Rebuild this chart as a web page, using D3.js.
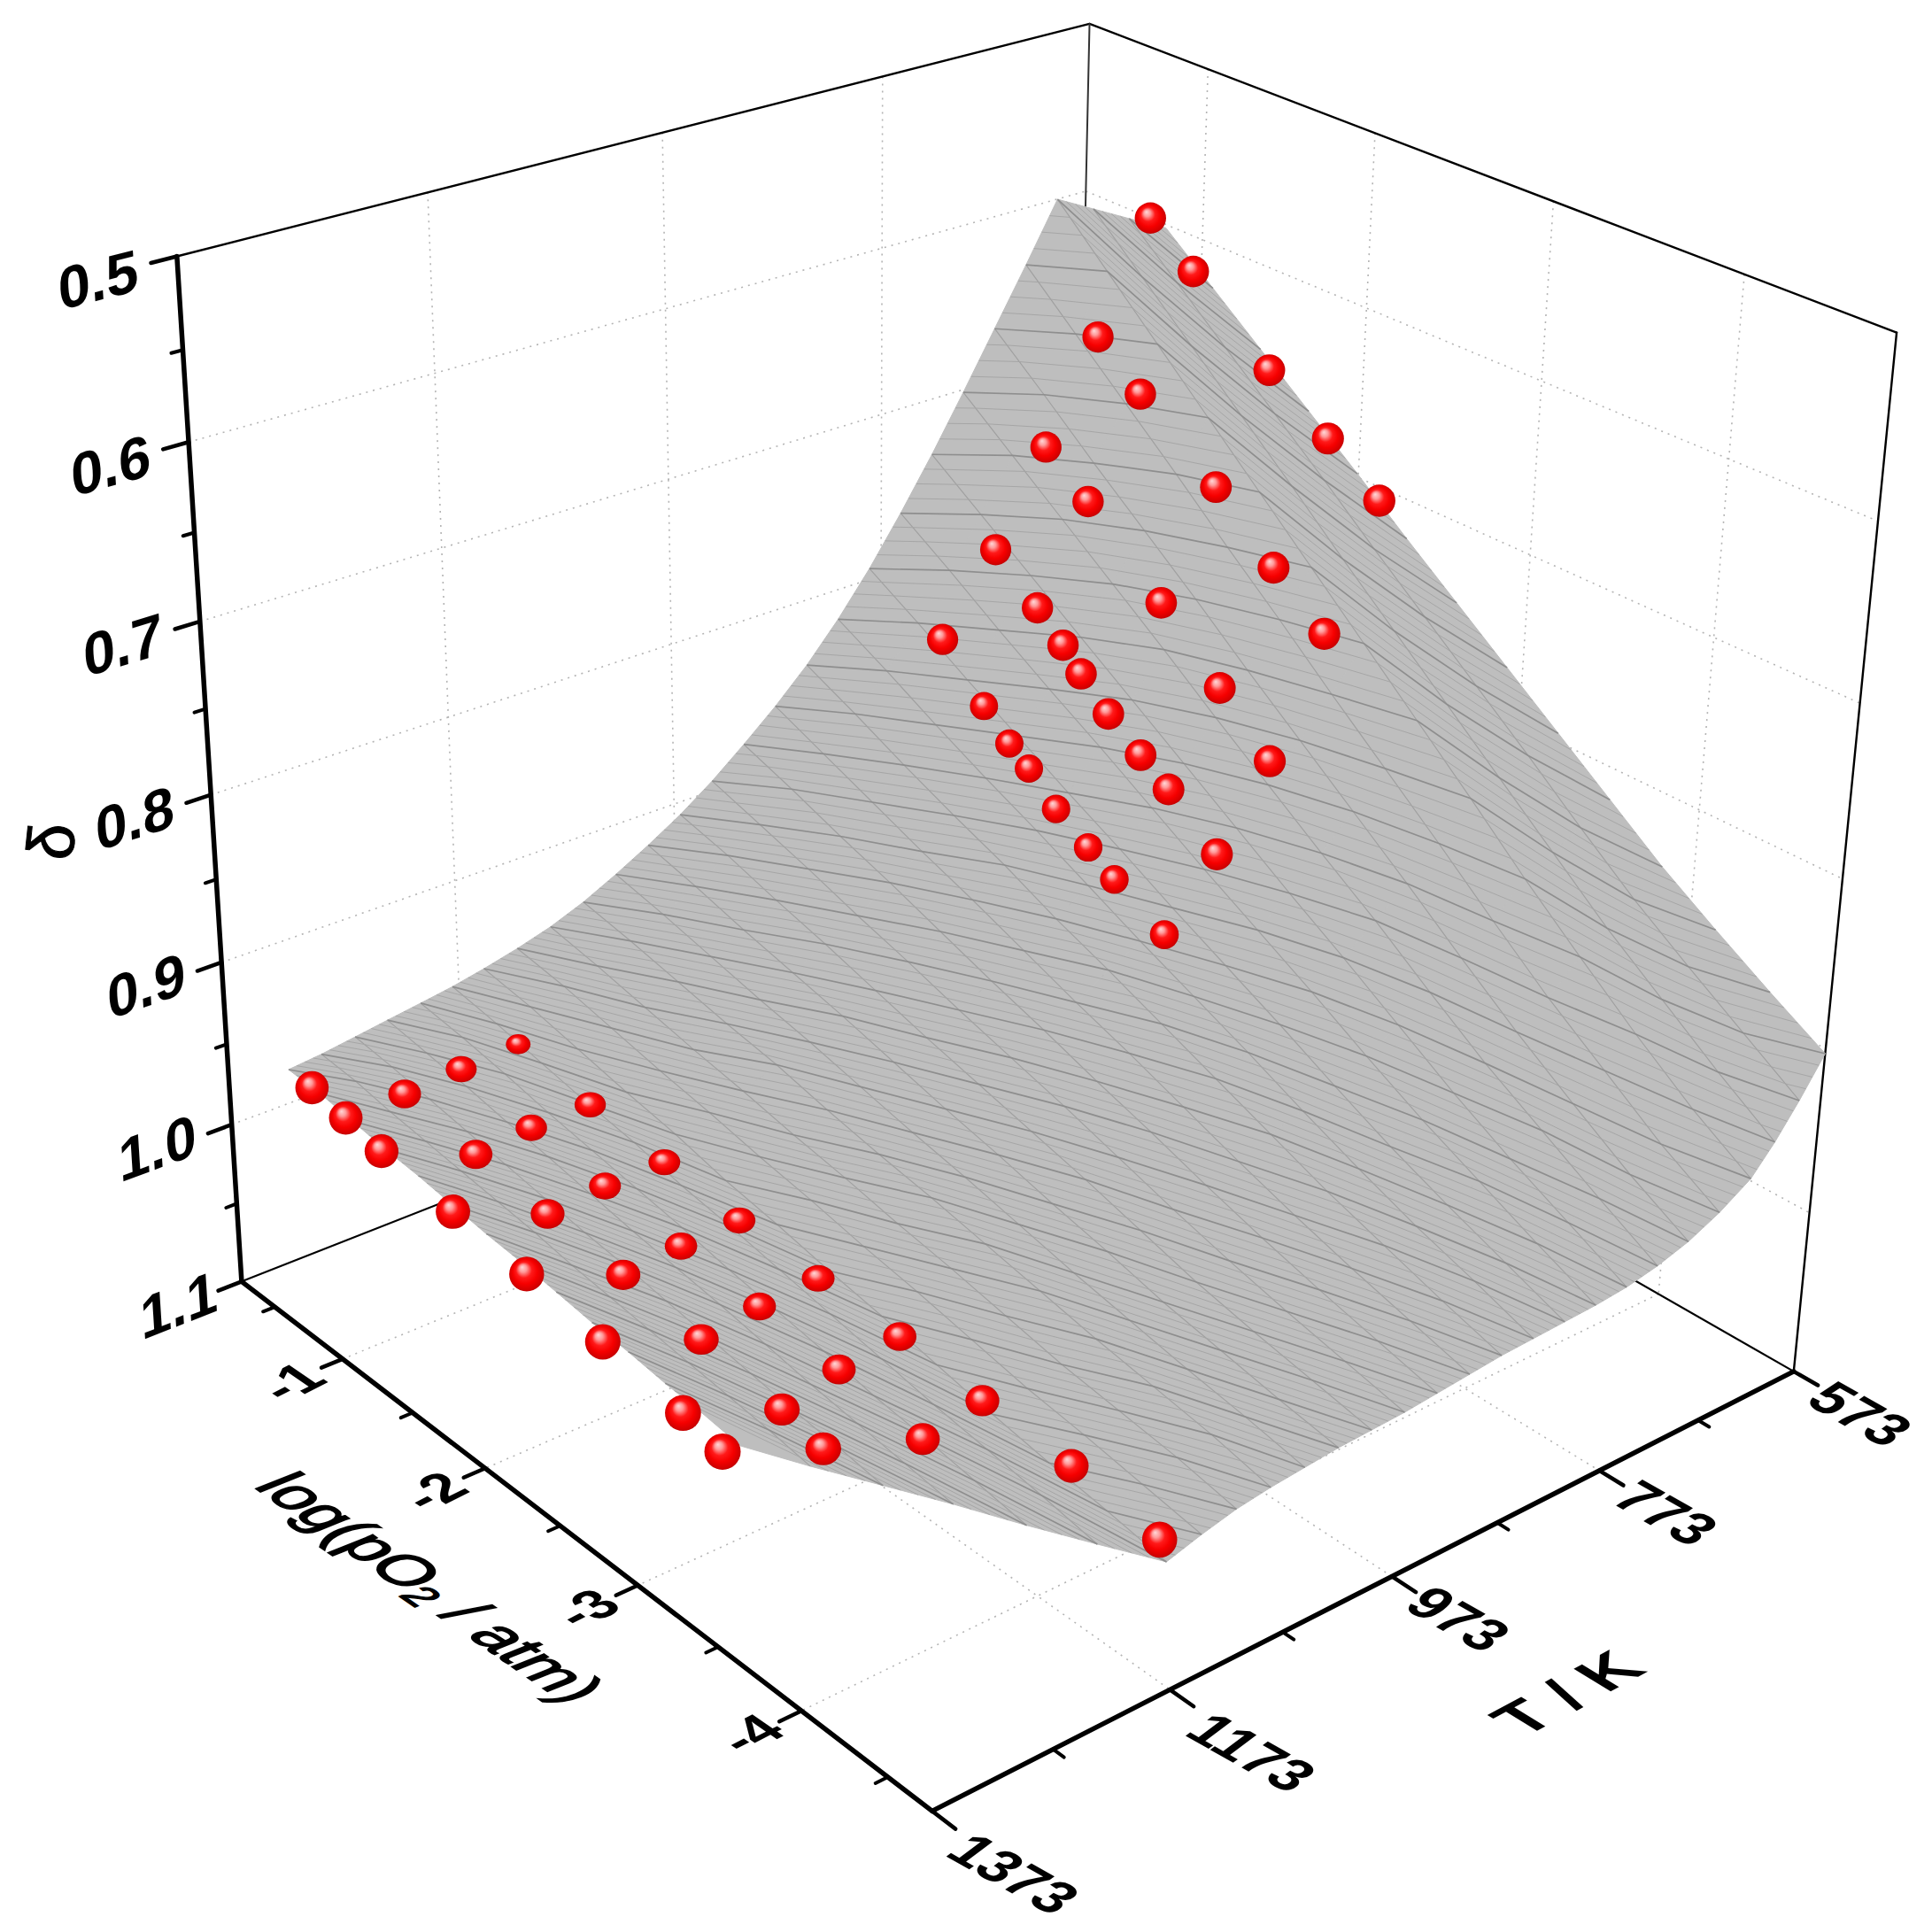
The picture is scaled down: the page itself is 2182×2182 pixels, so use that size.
<!DOCTYPE html>
<html>
<head>
<meta charset="utf-8">
<style>
	body { margin: 0; background: #fff; }
	text { font-family: "Liberation Sans", Arial, sans-serif; fill: #000; }
</style>
</head>
<body>
<div id="container"></div>
<script src="https://cdnjs.cloudflare.com/ajax/libs/d3/7.8.5/d3.min.js"></script>
<script>
//axis ticks
var tempTicks = [1373, 1173, 973, 773, 573];
var tempMinor = [1273, 1073, 873, 673];
var logTicks = [-1, -2, -3, -4];
var logMinor = [-0.5, -1.5, -2.5, -3.5, -4.5];
var deltaTicks = [0.5, 0.6, 0.7, 0.8, 0.9, 1.0, 1.1];
var deltaMinor = [0.55, 0.65, 0.75, 0.85, 0.95, 1.05];

//measured points, one list per temperature
var pointTemps = [1350, 1275, 1228, 1180, 773, 723, 673, 623, 573];
var pointLogs = [
	[-0.67, -0.91, -1.16, -1.65, -2.14, -2.63, -3.13, -3.37],
	[-0.69, -1.19, -1.68, -2.18, -2.68, -3.18, -3.43],
	[-0.71, -1.20, -1.70, -2.20, -2.70, -3.19, -3.69],
	[-0.73, -1.23, -1.73, -2.22, -2.72, -3.22, -3.71, -4.22, -4.71],
	[-0.67, -0.95, -1.12, -1.25, -1.43, -1.64, -1.81, -2.13],
	[-0.68, -0.96, -1.13, -1.25, -1.43, -1.64, -1.82, -2.13],
	[-0.67, -0.95, -1.43, -1.81, -2.13],
	[-0.67, -0.95, -1.44, -1.81, -2.13],
	[-0.67, -0.95, -1.44, -1.81, -2.13]
];
var pointDeltas = [
	[0.958, 0.962, 0.967, 0.973, 0.979, 0.987, 0.995, 1.001],
	[0.981, 0.988, 0.994, 0.999, 1.005, 1.013, 1.019],
	[0.977, 0.984, 0.989, 0.994, 0.998, 1.003, 1.010],
	[0.973, 0.981, 0.986, 0.991, 0.994, 0.996, 1.001, 1.004, 1.012],
	[0.820, 0.848, 0.863, 0.872, 0.888, 0.901, 0.912, 0.929],
	[0.774, 0.797, 0.812, 0.824, 0.840, 0.855, 0.867, 0.891],
	[0.721, 0.742, 0.782, 0.816, 0.845],
	[0.663, 0.686, 0.721, 0.753, 0.778],
	[0.600, 0.621, 0.660, 0.685, 0.708]
];

//fitted surface: one row per temperature, each running from surfLogHigh to surfLogLow
var surfTemps = [573, 596, 618, 640, 670, 700, 730, 760, 790, 820, 850, 880, 910, 940, 970, 1000, 1030, 1060, 1090, 1120, 1150, 1180, 1208, 1236, 1265, 1293, 1322, 1350];
var surfLogHigh = [-0.77, -0.68, -0.59, -0.5, -0.5, -0.5, -0.5, -0.5, -0.5, -0.5, -0.5, -0.5, -0.5, -0.5, -0.5, -0.5, -0.5, -0.5, -0.5, -0.5, -0.5, -0.5, -0.5, -0.5, -0.5, -0.5, -0.5, -0.5];
var surfLogLow = [-4.75, -4.75, -4.75, -4.75, -4.75, -4.75, -4.75, -4.75, -4.75, -4.75, -4.75, -4.75, -4.75, -4.75, -4.75, -4.75, -4.75, -4.75, -4.75, -4.75, -4.75, -4.75, -4.55, -4.34, -4.12, -3.91, -3.69, -3.48];
var surfDelta = [
	[0.602, 0.626, 0.650, 0.674, 0.698, 0.723, 0.747, 0.771, 0.795, 0.819, 0.843, 0.864, 0.884, 0.903],
	[0.596, 0.622, 0.648, 0.674, 0.700, 0.727, 0.753, 0.779, 0.805, 0.832, 0.858, 0.881, 0.903, 0.925],
	[0.590, 0.618, 0.646, 0.674, 0.702, 0.731, 0.759, 0.787, 0.815, 0.843, 0.871, 0.896, 0.921, 0.944],
	[0.584, 0.614, 0.644, 0.674, 0.704, 0.734, 0.764, 0.794, 0.824, 0.855, 0.884, 0.912, 0.938, 0.960],
	[0.618, 0.646, 0.674, 0.702, 0.731, 0.759, 0.788, 0.816, 0.844, 0.873, 0.901, 0.926, 0.951, 0.972],
	[0.651, 0.677, 0.704, 0.730, 0.756, 0.783, 0.809, 0.835, 0.861, 0.888, 0.914, 0.938, 0.961, 0.981],
	[0.684, 0.708, 0.732, 0.756, 0.780, 0.805, 0.829, 0.853, 0.876, 0.901, 0.925, 0.946, 0.967, 0.987],
	[0.716, 0.738, 0.760, 0.782, 0.804, 0.826, 0.848, 0.870, 0.891, 0.913, 0.935, 0.955, 0.973, 0.991],
	[0.746, 0.766, 0.787, 0.807, 0.826, 0.846, 0.866, 0.885, 0.904, 0.924, 0.943, 0.960, 0.977, 0.993],
	[0.774, 0.792, 0.811, 0.829, 0.847, 0.864, 0.882, 0.899, 0.916, 0.934, 0.951, 0.966, 0.980, 0.994],
	[0.799, 0.815, 0.832, 0.848, 0.863, 0.879, 0.895, 0.910, 0.925, 0.941, 0.956, 0.970, 0.982, 0.995],
	[0.821, 0.835, 0.850, 0.864, 0.877, 0.892, 0.905, 0.919, 0.933, 0.947, 0.961, 0.973, 0.985, 0.996],
	[0.840, 0.853, 0.866, 0.879, 0.891, 0.904, 0.917, 0.929, 0.942, 0.955, 0.967, 0.978, 0.988, 0.998],
	[0.857, 0.868, 0.880, 0.891, 0.903, 0.915, 0.926, 0.938, 0.949, 0.961, 0.972, 0.982, 0.991, 1.000],
	[0.873, 0.883, 0.893, 0.904, 0.914, 0.925, 0.935, 0.945, 0.956, 0.967, 0.977, 0.986, 0.994, 1.002],
	[0.887, 0.895, 0.905, 0.914, 0.924, 0.934, 0.943, 0.952, 0.961, 0.971, 0.981, 0.989, 0.996, 1.003],
	[0.899, 0.907, 0.916, 0.924, 0.932, 0.941, 0.950, 0.958, 0.967, 0.975, 0.984, 0.991, 0.998, 1.004],
	[0.910, 0.917, 0.925, 0.933, 0.940, 0.948, 0.956, 0.963, 0.971, 0.979, 0.986, 0.993, 0.999, 1.006],
	[0.920, 0.926, 0.933, 0.940, 0.946, 0.954, 0.961, 0.967, 0.974, 0.981, 0.988, 0.994, 1.000, 1.008],
	[0.928, 0.934, 0.941, 0.948, 0.954, 0.961, 0.967, 0.974, 0.980, 0.987, 0.994, 0.999, 1.004, 1.011],
	[0.934, 0.939, 0.946, 0.953, 0.959, 0.966, 0.972, 0.979, 0.985, 0.992, 0.999, 1.004, 1.010, 1.016],
	[0.939, 0.944, 0.951, 0.958, 0.964, 0.972, 0.978, 0.985, 0.991, 0.998, 1.005, 1.011, 1.016, 1.022],
	[0.943, 0.948, 0.954, 0.960, 0.965, 0.972, 0.977, 0.983, 0.989, 0.995, 1.001, 1.006, 1.011, 1.017],
	[0.946, 0.950, 0.955, 0.961, 0.966, 0.971, 0.976, 0.982, 0.987, 0.992, 0.998, 1.002, 1.007, 1.012],
	[0.949, 0.953, 0.957, 0.962, 0.966, 0.971, 0.976, 0.980, 0.984, 0.989, 0.994, 0.998, 1.002, 1.006],
	[0.952, 0.955, 0.959, 0.963, 0.967, 0.971, 0.975, 0.978, 0.982, 0.986, 0.990, 0.994, 0.997, 1.001],
	[0.955, 0.957, 0.961, 0.964, 0.967, 0.970, 0.973, 0.977, 0.980, 0.983, 0.986, 0.989, 0.992, 0.996],
	[0.957, 0.958, 0.961, 0.964, 0.966, 0.969, 0.972, 0.974, 0.977, 0.980, 0.982, 0.985, 0.987, 0.990]
];

var w = 2182, h = 2182;

//axis limits
var tempMin = 573, tempMax = 1373, logMax = -0.25, logMin = -4.75, deltaTop = 0.5, deltaBottom = 1.1;
var uScale = d3.scaleLinear().domain([tempMin, tempMax]).range([0, 1]);
var vScale = d3.scaleLinear().domain([logMax, logMin]).range([0, 1]);
var zScale = d3.scaleLinear().domain([deltaBottom, deltaTop]).range([0, 1]);

//where box corners and ticks land on the page, used to work out the camera: T, log, delta, x, y
var anchors = [
	[1373, -0.25, 1.1, 273, 1448], [1373, -4.75, 1.1, 1054, 2043], [573, -4.75, 1.1, 2025, 1549], [573, -0.25, 1.1, 1207, 1078],
	[1373, -0.25, 0.5, 200, 289], [573, -0.25, 0.5, 1231, 28], [573, -4.75, 0.5, 2142, 375],
	[1173, -4.75, 1.1, 1320, 1909], [973, -4.75, 1.1, 1573, 1782], [773, -4.75, 1.1, 1807, 1662],
	[1373, -1, 1.1, 388, 1536], [1373, -2, 1.1, 548, 1660], [1373, -3, 1.1, 719, 1788],
	[1373, -0.25, 0.6, 213, 499], [1373, -0.25, 0.7, 225, 702]
];

function solve(A, b) {
	var n = b.length;
	A = A.map(function(r, i) { return r.concat(b[i]); });
	for (var i = 0; i < n; i++) {
		var m = i;
		for (var k = i + 1; k < n; k++) {
			if (Math.abs(A[k][i]) > Math.abs(A[m][i])) m = k;
		}
		var t = A[i]; A[i] = A[m]; A[m] = t;
		for (k = 0; k < n; k++) {
			if (k === i) continue;
			var f = A[k][i] / A[i][i];
			for (var j = i; j <= n; j++) A[k][j] -= f * A[i][j];
		}
	}
	return A.map(function(r, i) { return r[n] / r[i]; });
}

//least squares for the 3x4 camera matrix
function fitCamera() {
	var rows = [], rhs = [];
	anchors.forEach(function(c) {
		var u = uScale(c[0]), v = vScale(c[1]), z = zScale(c[2]), x = c[3], y = c[4];
		rows.push([u, v, z, 1, 0, 0, 0, 0, -x * u, -x * v, -x * z]); rhs.push(x);
		rows.push([0, 0, 0, 0, u, v, z, 1, -y * u, -y * v, -y * z]); rhs.push(y);
	});
	var idx = d3.range(11);
	var N = idx.map(function(i) {
		return idx.map(function(j) { return d3.sum(rows, function(r) { return r[i] * r[j]; }); });
	});
	var B = idx.map(function(i) { return d3.sum(rows, function(r, k) { return r[i] * rhs[k]; }); });
	return solve(N, B);
}
var cam = fitCamera();

function project(T, log, delta) {
	var u = uScale(T), v = vScale(log), z = zScale(delta);
	var d = cam[8] * u + cam[9] * v + cam[10] * z + 1;
	return {
		x: (cam[0] * u + cam[1] * v + cam[2] * z + cam[3]) / d,
		y: (cam[4] * u + cam[5] * v + cam[6] * z + cam[7]) / d,
		depth: d
	};
}

var svg = d3.select("#container")
	.append("svg")
	.attr("width", w)
	.attr("height", h);

var defs = svg.append("defs");
var ball = defs.append("radialGradient")
	.attr("id", "ball")
	.attr("cx", 0.5).attr("cy", 0.5).attr("r", 0.54)
	.attr("fx", 0.37).attr("fy", 0.3);
[[0, "#ffd8d8"], [0.2, "#ff9a9a"], [0.42, "#ff1a1a"], [0.65, "#f60000"], [0.88, "#d40000"], [1, "#b00000"]].forEach(function(s) {
	ball.append("stop").attr("offset", s[0]).attr("stop-color", s[1]);
});

function seg(g, a, b, cls) {
	return g.append("line")
		.attr("class", cls)
		.attr("x1", a.x).attr("y1", a.y)
		.attr("x2", b.x).attr("y2", b.y)
		.attr("stroke", "#000")
		.attr("stroke-linecap", "round");
}

//dotted grid on the two walls and the floor
var grid = svg.append("g");
function gridLine(a, b) {
	seg(grid, a, b, "gridline")
		.attr("stroke", "#b4b4b4")
		.attr("stroke-width", 1.6)
		.attr("stroke-linecap", "butt")
		.attr("stroke-dasharray", "2 6");
}
[0.6, 0.7, 0.8, 0.9, 1.0].forEach(function(d) {
	gridLine(project(tempMax, logMax, d), project(tempMin, logMax, d));
	gridLine(project(tempMin, logMax, d), project(tempMin, logMin, d));
});
[1173, 973, 773].forEach(function(T) {
	gridLine(project(T, logMax, deltaTop), project(T, logMax, deltaBottom));
	gridLine(project(T, logMax, deltaBottom), project(T, logMin, deltaBottom));
});
logTicks.forEach(function(l) {
	gridLine(project(tempMin, l, deltaTop), project(tempMin, l, deltaBottom));
	gridLine(project(tempMin, l, deltaBottom), project(tempMax, l, deltaBottom));
});

//thin box lines behind the surface
var box = svg.append("g");
seg(box, project(tempMax, logMax, deltaTop), project(tempMin, logMax, deltaTop), "box").attr("stroke-width", 2.4);
seg(box, project(tempMin, logMax, deltaTop), project(tempMin, logMin, deltaTop), "box").attr("stroke-width", 2.4);
seg(box, project(tempMin, logMax, deltaTop), project(tempMin, logMax, deltaBottom), "box").attr("stroke-width", 2).attr("stroke", "#333");
seg(box, project(tempMin, logMin, deltaTop), project(tempMin, logMin, deltaBottom), "box").attr("stroke-width", 2.4);
seg(box, project(tempMax, logMax, deltaBottom), project(tempMin, logMax, deltaBottom), "box").attr("stroke-width", 2.2);
seg(box, project(tempMin, logMax, deltaBottom), project(tempMin, logMin, deltaBottom), "box").attr("stroke-width", 2.2);

//surface nodes
var nRows = surfTemps.length, nCols = surfDelta[0].length;
var nodes = surfTemps.map(function(T, i) {
	var logAt = d3.scaleLinear().domain([0, nCols - 1]).range([surfLogHigh[i], surfLogLow[i]]);
	return d3.range(nCols).map(function(j) { return project(T, logAt(j), surfDelta[i][j]); });
});
var pathLine = d3.line().x(function(d) { return d.x; }).y(function(d) { return d.y; });

var cells = [];
d3.range(nRows - 1).forEach(function(i) {
	d3.range(nCols - 1).forEach(function(j) {
		cells.push([nodes[i][j], nodes[i][j + 1], nodes[i + 1][j + 1], nodes[i + 1][j]]);
	});
});
var surface = svg.append("g");
surface.selectAll("path.cell")
	.data(cells)
	.enter()
	.append("path")
	.attr("class", "cell")
	.attr("d", function(d) { return pathLine(d) + "Z"; })
	.attr("fill", "#bebebe")
	.attr("stroke", "#bebebe")
	.attr("stroke-width", 1);

function meshLines(list, color, width) {
	surface.selectAll(null)
		.data(list)
		.enter()
		.append("path")
		.attr("d", pathLine)
		.attr("fill", "none")
		.attr("stroke", color)
		.attr("stroke-width", width);
}

//place on the mesh between nodes, for the wire lines only
function meshAt(i, j) {
	var i0 = Math.min(Math.floor(i), nRows - 2), j0 = Math.min(Math.floor(j), nCols - 2);
	var a = i - i0, b = j - j0;
	var p = nodes[i0][j0], q = nodes[i0][j0 + 1], r = nodes[i0 + 1][j0 + 1], s = nodes[i0 + 1][j0];
	return {
		x: (1 - a) * ((1 - b) * p.x + b * q.x) + a * ((1 - b) * s.x + b * r.x),
		y: (1 - a) * ((1 - b) * p.y + b * q.y) + a * ((1 - b) * s.y + b * r.y)
	};
}

//the wire runs across the cells, i + j staying the same along one line
function wire(k) {
	var list = [];
	var first = Math.max(0, k - (nCols - 1)), last = Math.min(nRows - 1, k);
	list.push(meshAt(first, k - first));
	for (var i = Math.ceil(first); i <= Math.floor(last); i++) {
		if (i > first && i < last) list.push(meshAt(i, k - i));
	}
	list.push(meshAt(last, k - last));
	return list;
}

meshLines(d3.range(1, nRows - 1).map(function(i) { return nodes[i]; }), "#a0a0a0", 1.2);
var fine = [], dark = [];
d3.range(1, (nRows + nCols - 3) * 4).forEach(function(n) {
	if (n % 4 === 0) dark.push(wire(n / 4));
	else fine.push(wire(n / 4));
});
meshLines(fine, "#a6a6a6", 1);
meshLines(dark, "#8e8e8e", 1.7);

//red balls; some sit partly under the surface so they look squashed
var points = [];
pointTemps.forEach(function(T, i) {
	pointLogs[i].forEach(function(l, j) {
		points.push({ T: T, log: l, delta: pointDeltas[i][j] });
	});
});
var sinkByTemp = { 1350: 1, 1275: 0.88, 1228: 0.8, 1180: 0.77 };
var sinkFade = d3.scaleLinear().domain([-4.9, -2.7]).range([0, 1]).clamp(true);
var ballSize = 16.2;
svg.append("g").selectAll("ellipse")
	.data(points)
	.enter()
	.append("ellipse")
	.attr("class", "point")
	.each(function(d) {
		var q = project(d.T, d.log, d.delta);
		var r = ballSize / q.depth;
		var sink = sinkByTemp[d.T] === undefined ? 1 : sinkByTemp[d.T];
		var ry = r * (1 - (1 - sink) * sinkFade(d.log));
		var rx = r;
		if (d.T === 773 && d.log < -0.8) { rx *= 0.9; ry *= 0.9; }
		if (d.T === 1180 || d.T === 1228) rx *= 0.95;
		if (d.T === 1180 && d.log > -0.8) { rx *= 0.8; ry *= 0.8; }
		d3.select(this)
			.attr("cx", q.x).attr("cy", q.y)
			.attr("rx", rx).attr("ry", ry)
			.attr("fill", "url(#ball)");
	});

//thick axes
var axes = svg.append("g");
seg(axes, project(tempMax, logMax, deltaTop), project(tempMax, logMax, deltaBottom), "axis").attr("stroke-width", 5.5);
seg(axes, project(tempMax, logMax, deltaBottom), project(tempMax, logMin, deltaBottom), "axis").attr("stroke-width", 5.5);
seg(axes, project(tempMax, logMin, deltaBottom), project(tempMin, logMin, deltaBottom), "axis").attr("stroke-width", 5.5);

deltaTicks.forEach(function(d) { seg(axes, project(tempMax, logMax, d), project(tempMax + 20, logMax, d), "tick").attr("stroke-width", 4.5); });
deltaMinor.forEach(function(d) { seg(axes, project(tempMax, logMax, d), project(tempMax + 9, logMax, d), "tick").attr("stroke-width", 4); });
logTicks.forEach(function(l) { seg(axes, project(tempMax, l, deltaBottom), project(tempMax + 18, l, deltaBottom), "tick").attr("stroke-width", 4.5); });
logMinor.forEach(function(l) { seg(axes, project(tempMax, l, deltaBottom), project(tempMax + 10, l, deltaBottom), "tick").attr("stroke-width", 4); });
tempTicks.forEach(function(T) { seg(axes, project(T, logMin, deltaBottom), project(T, logMin - 0.13, deltaBottom), "tick").attr("stroke-width", 4.5); });
tempMinor.forEach(function(T) { seg(axes, project(T, logMin, deltaBottom), project(T, logMin - 0.06, deltaBottom), "tick").attr("stroke-width", 4); });

//text is sheared into its plane: along is the baseline, up the top of the letters
function unit(a, b) {
	var dx = b.x - a.x, dy = b.y - a.y, len = Math.sqrt(dx * dx + dy * dy);
	return { x: dx / len, y: dy / len };
}
function planeText(x, y, along, up, str, size, weight) {
	return svg.append("text")
		.attr("transform", "matrix(" + [along.x, along.y, -up.x, -up.y, x, y].join(",") + ")")
		.attr("text-anchor", "middle")
		.attr("dominant-baseline", "central")
		.attr("font-size", size)
		.attr("font-weight", weight)
		.text(str);
}

var deltaShift = d3.scaleLinear().domain([0.5, 1.0, 1.1]).range([-89, -84, -71]);
deltaTicks.forEach(function(d) {
	var a = project(tempMax, logMax, d);
	var along = unit(project(tempMax, logMax, d), project(tempMin, logMax, d));
	var up = unit(project(tempMax, logMax, d), project(tempMax, logMax, d - 0.1));
	planeText(a.x + deltaShift(d), a.y + 26, along, up, d3.format(".1f")(d), 67, "bold");
});

//the floor labels use fixed shears
var logTickAlong = { x: 0.89, y: -0.45 }, logTickUp = { x: -0.8, y: -0.55 };
var tempAlong = { x: 0.87, y: 0.49 }, tempUp = { x: 0.8, y: -0.6 };
var logTitleAlong = { x: 0.82, y: 0.57 }, logTitleUp = { x: 0.98, y: -0.39 };
var tempTitleAlong = { x: 0.88, y: -0.47 }, tempTitleUp = { x: -0.82, y: -0.5 };

logTicks.forEach(function(l) {
	var a = project(tempMax, l, deltaBottom);
	planeText(a.x - 58, a.y + 26, logTickAlong, logTickUp, d3.format("d")(l).replace("\u2212", "-"), 64, "bold");
});
tempTicks.forEach(function(T) {
	var a = project(T, logMin, deltaBottom);
	var longLabel = String(T).length === 4;
	planeText(a.x + (longLabel ? 92 : 75), a.y + (longLabel ? 71 : 48), tempAlong, tempUp, String(T), 64, "bold");
});

//axis titles
var logTitle = planeText(487, 1793, logTitleAlong, logTitleUp, "", 70, "normal")
	.attr("stroke", "#000")
	.attr("stroke-width", 2);
logTitle.append("tspan").text("log(pO");
logTitle.append("tspan").attr("font-size", 46).attr("dy", 16).text("2");
logTitle.append("tspan").attr("dy", -16).text(" / atm)");

planeText(1770, 1912, tempTitleAlong, tempTitleUp, "T / K", 74, "bold");

svg.append("text")
	.attr("transform", "translate(58,950) rotate(-84)")
	.attr("text-anchor", "middle")
	.attr("dominant-baseline", "central")
	.attr("font-size", 74)
	.attr("stroke", "#000")
	.attr("stroke-width", 1)
	.text("\u03b4");
</script>
</body>
</html>
